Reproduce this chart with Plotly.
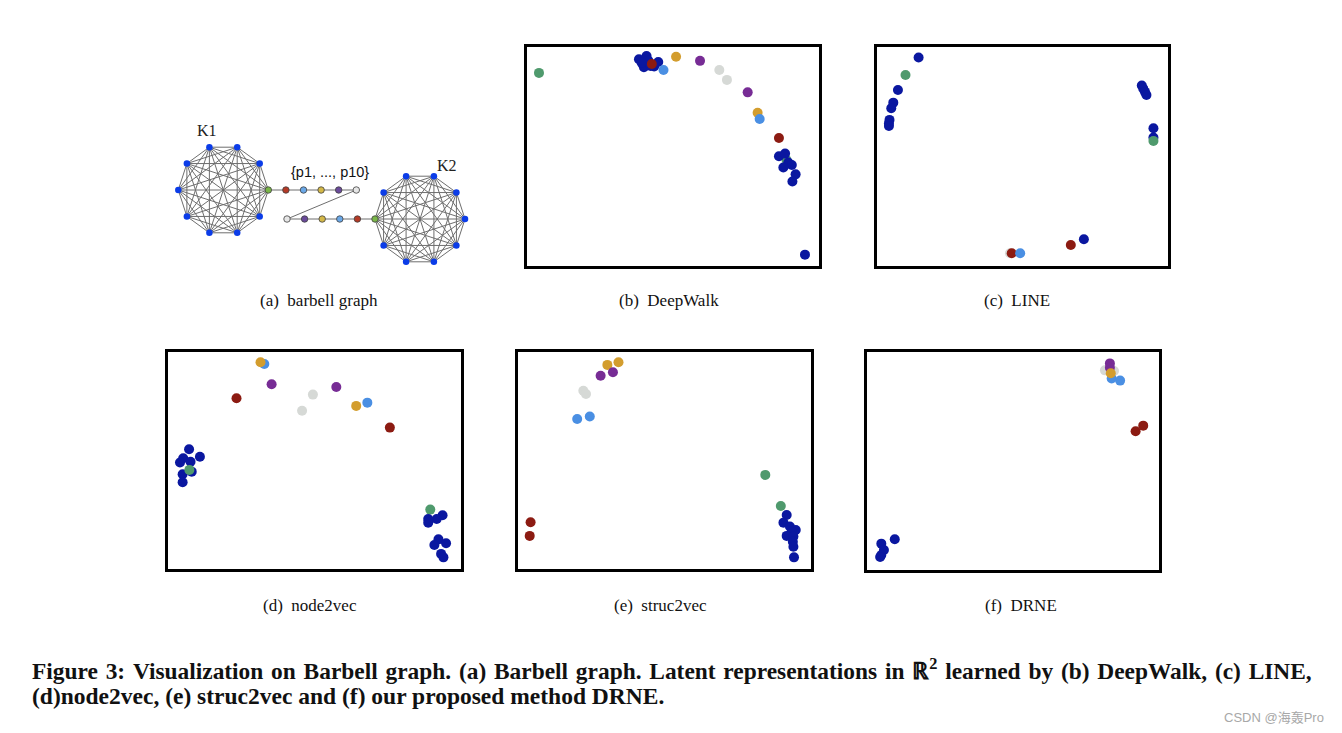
import math
import plotly.graph_objects as go

# page size and the default page margin of the html body
PAGE_W, PAGE_H, OFF = 1342, 733, 8
W, H = PAGE_W - OFF, PAGE_H - OFF

# ---------------- data ----------------
# class codes: B = clique nodes, G = bridge nodes, R = p1/p10, L = p2/p9,
# Y = p3/p8, P = p4/p7, W = p5/p6
deepwalk_x = [4.2, 38.4, 41.0, 40.1, 41.6, 43.6, 45.0, 39.3, 42.4, 42.8, 46.8, 51.1, 59.3, 65.9, 68.5, 75.6,
              79.0, 79.7, 86.3, 88.9, 86.3, 88.4, 89.5, 90.7, 87.8, 92.0, 90.9, 95.2]
deepwalk_y = [88.3, 94.5, 96.0, 90.9, 93.9, 91.2, 93.3, 93.0, 91.5, 92.4, 89.6, 95.7, 93.8, 89.6, 85.1, 79.4,
              70.1, 67.2, 58.5, 48.5, 50.2, 51.4, 47.3, 46.2, 45.0, 41.9, 38.6, 5.2]
deepwalk_c = ["G", "B", "B", "B", "B", "B", "B", "B", "B", "R", "L", "Y", "P", "W", "W", "P",
              "Y", "L", "R", "G", "B", "B", "B", "B", "B", "B", "B", "B"]

line_x = [14.4, 9.9, 7.3, 5.7, 5.0, 4.4, 4.2, 4.2, 91.1, 91.6, 92.2, 92.7, 95.1, 95.1, 95.1, 45.8, 46.4, 49.3, 66.7, 71.2]
line_y = [95.3, 87.3, 80.5, 74.7, 72.1, 66.8, 65.2, 64.0, 82.5, 81.1, 79.6, 78.2, 63.0, 58.7, 57.2, 5.8, 5.8, 5.8, 9.6, 12.2]
line_c = ["B", "G", "B", "B", "B", "B", "B", "B", "B", "B", "B", "B", "B", "B", "G", "W", "R", "L", "R", "B"]

node2vec_x = [32.8, 31.5, 35.3, 23.3, 49.4, 45.7, 57.4, 64.2, 68.0, 75.7,
              7.1, 10.8, 5.1, 4.0, 7.6, 8.0, 4.9, 4.9, 7.2,
              89.5, 93.7, 91.7, 88.8, 88.8, 92.3, 94.9, 90.9, 93.2, 94.0]
node2vec_y = [94.6, 95.4, 85.3, 78.8, 80.5, 73.1, 84.0, 75.3, 76.8, 65.3,
              55.3, 51.9, 51.2, 49.2, 49.6, 45.0, 43.8, 40.1, 45.8,
              27.5, 24.9, 23.2, 23.2, 21.5, 13.8, 12.0, 11.2, 7.1, 5.5]
node2vec_c = ["L", "Y", "P", "R", "W", "W", "P", "Y", "L", "R",
              "B", "B", "B", "B", "B", "B", "B", "B", "G",
              "G", "B", "B", "B", "B", "B", "B", "B", "B", "B"]

struc2vec_x = [30.6, 34.4, 28.3, 32.5, 22.4, 23.3, 20.3, 24.6, 4.4, 4.1, 84.5, 89.8,
               91.8, 90.7, 92.9, 94.9, 93.5, 91.8, 94.1, 93.9, 94.1, 94.3]
struc2vec_y = [94.2, 95.4, 89.2, 90.8, 82.3, 80.8, 69.3, 70.4, 21.7, 15.4, 43.5, 29.2,
               25.0, 21.5, 19.7, 18.1, 17.4, 15.4, 15.1, 12.7, 10.4, 5.5]
struc2vec_c = ["Y", "Y", "P", "P", "W", "W", "L", "L", "R", "R", "G", "G",
               "B", "B", "B", "B", "B", "B", "B", "B", "B", "B"]

drne_x = [81.5, 84.6, 86.7, 83.8, 83.2, 83.2, 83.5, 92.0, 94.6, 9.6, 5.0, 5.9, 5.0, 4.6]
drne_y = [91.7, 91.4, 87.0, 88.0, 94.9, 92.9, 90.4, 63.7, 66.3, 14.1, 12.1, 9.2, 6.9, 6.0]
drne_c = ["W", "W", "L", "L", "P", "P", "Y", "R", "R", "B", "B", "B", "B", "B"]

panel_labels = ["(a)\u2002barbell graph", "(b)\u2002DeepWalk", "(c)\u2002LINE",
                "(d)\u2002node2vec", "(e)\u2002struc2vec", "(f)\u2002DRNE"]

# barbell graph structure
clique_size = 10
path_c = ["R", "L", "Y", "P", "W", "W", "P", "Y", "L", "R"]
graph_texts = ["K1", "K2", "{p1, ..., p10}"]

caption_1 = ("Figure 3: Visualization on Barbell graph. (a) Barbell graph. Latent representations in "
             "\u211d<sup>2</sup> learned by (b) DeepWalk, (c) LINE,")
caption_2 = "(d)node2vec, (e) struc2vec and (f) our proposed method DRNE."
watermark = "CSDN @海轰Pro"

# ---------------- style ----------------
COL = {"B": "#0a17a0", "G": "#4f9a6d", "R": "#8c1b12", "L": "#4a8fe3",
       "Y": "#d39d2e", "P": "#772c95", "W": "#d6d9d6"}
GCOL = {"B": "#0b3ce8", "G": "#7ab648", "R": "#b43a26", "L": "#6aa8e8",
        "Y": "#d4b848", "P": "#6a4a9a", "W": "#e6e6e6"}
SERIF = "Liberation Serif"


def fx(px):
    return (px - OFF) / W


def fy(py):
    return 1 - (py - OFF) / H


# inner boxes of scatter panels in page pixels: left, right, top, bottom
boxes = [
    (526.7, 819.0, 47.3, 266.0),
    (876.7, 1167.7, 47.3, 266.0),
    (168.3, 461.0, 352.3, 569.3),
    (517.7, 810.7, 352.3, 569.3),
    (866.7, 1159.0, 352.3, 570.0),
]
panels = [(deepwalk_x, deepwalk_y, deepwalk_c), (line_x, line_y, line_c),
          (node2vec_x, node2vec_y, node2vec_c), (struc2vec_x, struc2vec_y, struc2vec_c),
          (drne_x, drne_y, drne_c)]

fig = go.Figure()
layout = dict(width=W, height=H, margin=dict(l=0, r=0, t=0, b=0),
              paper_bgcolor="white", plot_bgcolor="rgba(0,0,0,0)", showlegend=False)

# ---- panel (a): barbell graph on a page-pixel-scaled axis ----
layout["xaxis"] = dict(domain=[0, 1], range=[OFF, PAGE_W], visible=False, fixedrange=True)
layout["yaxis"] = dict(domain=[0, 1], range=[PAGE_H, OFF], visible=False, fixedrange=True)

k1_center, k2_center, radius, step = (223.3, 190.0), (420.0, 219.0), 45.0, 17.6


def clique_nodes(center):
    return [(center[0] + radius * math.cos(2 * math.pi * k / clique_size),
             center[1] - radius * math.sin(2 * math.pi * k / clique_size)) for k in range(clique_size)]


k1 = clique_nodes(k1_center)
k2 = clique_nodes(k2_center)
k1_bridge = k1[0]
k2_bridge = k2[clique_size // 2]
half = len(path_c) // 2
path_pts = [(k1_bridge[0] + step * (i + 1), k1_bridge[1]) for i in range(half)] + \
           [(k2_bridge[0] - step * (half - i), k2_bridge[1]) for i in range(half)]

ex, ey = [], []
for nodes in (k1, k2):
    for i in range(clique_size):
        for j in range(i + 1, clique_size):
            ex += [nodes[i][0], nodes[j][0], None]
            ey += [nodes[i][1], nodes[j][1], None]
chain = [k1_bridge] + path_pts + [k2_bridge]
for a, b in zip(chain[:-1], chain[1:]):
    ex += [a[0], b[0], None]
    ey += [a[1], b[1], None]
fig.add_trace(go.Scatter(x=ex, y=ey, mode="lines", line=dict(color="#6e6e6e", width=1),
                         hoverinfo="skip", xaxis="x", yaxis="y"))

cl_nodes = [p for k, p in enumerate(k1) if k != 0] + [p for k, p in enumerate(k2) if k != clique_size // 2]
fig.add_trace(go.Scatter(x=[p[0] for p in cl_nodes], y=[p[1] for p in cl_nodes], mode="markers",
                         marker=dict(size=6.5, color=GCOL["B"], line=dict(width=0)),
                         xaxis="x", yaxis="y"))
pn = [k1_bridge] + path_pts + [k2_bridge]
pc = ["G"] + path_c + ["G"]
fig.add_trace(go.Scatter(x=[p[0] for p in pn], y=[p[1] for p in pn], mode="markers",
                         marker=dict(size=6.5, color=[GCOL[c] for c in pc], line=dict(width=0.8, color="#404040")),
                         xaxis="x", yaxis="y"))

annotations = [
    dict(x=206.7, y=130, xref="x", yref="y", text=graph_texts[0], showarrow=False,
         font=dict(family=SERIF, size=16, color="#222")),
    dict(x=446.7, y=165, xref="x", yref="y", text=graph_texts[1], showarrow=False,
         font=dict(family=SERIF, size=16, color="#222")),
    dict(x=330, y=171.5, xref="x", yref="y", text=graph_texts[2], showarrow=False,
         font=dict(family="Liberation Sans", size=14.5, color="#111")),
]

# ---- scatter panels ----
for idx, ((px, py, pcl), (l, r, t, b)) in enumerate(zip(panels, boxes)):
    n = idx + 2
    xa, ya = f"xaxis{n}", f"yaxis{n}"
    layout[xa] = dict(domain=[fx(l), fx(r)], range=[0, 100], showgrid=False, zeroline=False,
                      showticklabels=False, ticks="", showline=True, mirror=True, linewidth=3,
                      linecolor="black", anchor=f"y{n}", fixedrange=True)
    layout[ya] = dict(domain=[fy(b), fy(t)], range=[0, 100], showgrid=False, zeroline=False,
                      showticklabels=False, ticks="", showline=True, mirror=True, linewidth=3,
                      linecolor="black", anchor=f"x{n}", fixedrange=True)
    fig.add_trace(go.Scatter(x=px, y=py, mode="markers",
                             marker=dict(size=10, color=[COL[c] for c in pcl], line=dict(width=0)),
                             xaxis=f"x{n}", yaxis=f"y{n}"))

# ---- panel labels ----
label_pos = [(319, 300), (669, 300), (1017, 300), (310, 605), (660, 605), (1021, 605)]
for txt, (lx, ly) in zip(panel_labels, label_pos):
    annotations.append(dict(x=fx(lx), y=fy(ly), xref="paper", yref="paper", text=txt, showarrow=False,
                            xanchor="center", yanchor="middle",
                            font=dict(family=SERIF, size=17, color="#111")))

# ---- caption (first line is justified in the original, hence the widened word gaps) ----
annotations.append(dict(x=fx(30), y=fy(669), xref="paper", yref="paper",
                        text="<b>" + caption_1.replace(" ", " \u200a") + "</b>",
                        showarrow=False, xanchor="left", yanchor="middle",
                        font=dict(family=SERIF, size=23.4, color="#111")))
annotations.append(dict(x=fx(30), y=fy(696), xref="paper", yref="paper", text="<b>" + caption_2 + "</b>",
                        showarrow=False, xanchor="left", yanchor="middle",
                        font=dict(family=SERIF, size=23.5, color="#111")))
annotations.append(dict(x=fx(1326), y=fy(717), xref="paper", yref="paper", text=watermark,
                        showarrow=False, xanchor="right", yanchor="middle",
                        font=dict(family="Liberation Sans, Noto Sans CJK SC", size=13, color="#a8a8a8")))

layout["annotations"] = annotations
fig.update_layout(**layout)
fig.write_html("out.html")
